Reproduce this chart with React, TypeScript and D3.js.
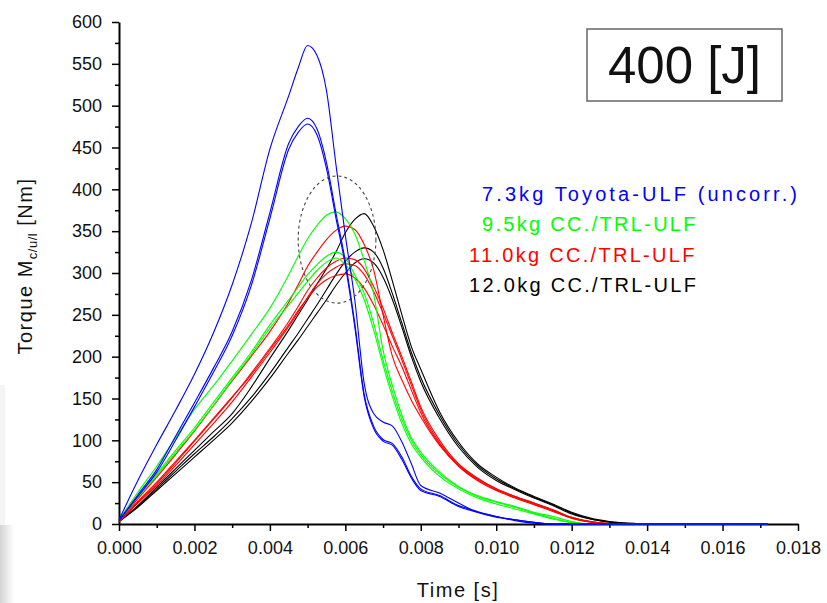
import React, { useEffect, useRef } from 'react';
import * as d3 from 'd3';

// time grid in milliseconds, torque in Nm
const timeMs = [0, 0.5, 1, 1.5, 2, 2.5, 3, 3.5, 4, 4.5, 4.75, 5, 5.25, 5.5, 5.75, 6, 6.25, 6.5, 6.75, 7, 7.25, 7.5, 7.75, 8, 8.5, 9, 9.5, 10, 10.5, 11, 11.5, 12, 12.5, 13, 13.5, 14, 15, 16, 17.2];

const blueA = [5, 52, 95, 136, 179, 228, 286, 358, 448, 512, 545, 572, 560, 518, 430, 345, 268, 168, 132, 122, 117, 98, 72, 46, 37, 25, 14, 8, 5, 2, 0, 0, 0, 0, 0, 0, 0, 0, 0];
const blueB = [4, 35, 65, 105, 145, 186, 230, 290, 372, 455, 475, 485, 472, 432, 372, 314, 240, 155, 117, 101, 96, 80, 57, 42, 34, 22, 15, 9, 5, 2, 0, 0, 0, 0, 0, 0, 0, 0, 0];
const blueC = [4, 33, 62, 100, 140, 181, 225, 284, 365, 448, 468, 478, 465, 425, 366, 309, 236, 152, 114, 99, 94, 77, 55, 40, 33, 21, 14, 9, 4, 1, 0, 0, 0, 0, 0, 0, 0, 0, 0];

const green1 = [5, 38, 69, 103, 137, 165, 195, 226, 258, 298, 320, 341, 357, 369, 373, 365, 347, 315, 275, 208, 165, 130, 103, 86, 62, 45, 34, 27, 21, 14, 9, 3, 0, 0, 0, 0, 0, 0, 0];
const green2 = [4, 33, 60, 88, 115, 145, 175, 205, 238, 268, 283, 298, 310, 320, 325, 318, 298, 276, 240, 196, 158, 125, 100, 83, 60, 44, 33, 26, 20, 13, 7, 2, 0, 0, 0, 0, 0, 0, 0];
const green3 = [4, 32, 58, 85, 112, 141, 172, 202, 234, 262, 276, 290, 303, 313, 318, 310, 293, 268, 232, 190, 152, 120, 96, 80, 57, 42, 31, 24, 18, 12, 6, 1.5, 0, 0, 0, 0, 0, 0, 0];

const red1 = [4, 30, 56, 83, 111, 141, 171, 200, 230, 265, 286, 308, 325, 340, 351, 356, 352, 334, 304, 250, 200, 172, 148, 128, 94, 70, 54, 42, 33, 25, 17, 8, 3, 0.5, 0, 0, 0, 0, 0];
const red2 = [3, 26, 48, 73, 99, 125, 151, 180, 210, 242, 260, 279, 294, 306, 314, 318, 316, 305, 284, 258, 228, 200, 170, 140, 100, 72, 55, 42, 33, 25, 17, 8, 3, 0.5, 0, 0, 0, 0, 0];
const red3 = [3, 25, 46, 70, 95, 120, 146, 175, 205, 236, 253, 271, 287, 299, 307, 311, 309, 298, 278, 252, 224, 196, 166, 137, 97, 70, 53, 41, 32, 24, 16, 7, 2.5, 0.5, 0, 0, 0, 0, 0];
const red4 = [3, 27, 50, 75, 100, 126, 152, 178, 208, 238, 255, 270, 283, 292, 297, 299, 294, 282, 262, 238, 212, 188, 160, 133, 95, 69, 52, 40, 31, 23, 15, 7, 2, 0.5, 0, 0, 0, 0, 0];

const black1 = [3, 22, 44, 66, 88, 110, 132, 163, 198, 232, 250, 268, 287, 305, 325, 348, 364, 371, 356, 328, 290, 250, 212, 185, 134, 98, 72, 56, 43, 33, 24, 14, 7, 3, 1, 0, 0, 0, 0];
const black2 = [3, 21, 42, 63, 84, 104, 126, 151, 180, 212, 228, 245, 262, 280, 298, 314, 325, 330, 325, 306, 275, 240, 205, 175, 130, 95, 70, 54, 42, 32, 23, 13, 6, 2.5, 0.5, 0, 0, 0, 0];
const black3 = [3, 20, 40, 60, 80, 100, 121, 146, 174, 205, 220, 236, 252, 268, 285, 300, 312, 317, 312, 295, 268, 235, 200, 170, 126, 92, 68, 52, 41, 31, 22, 12, 6, 2, 0.5, 0, 0, 0, 0];

const legendLabels = ['7.3kg Toyota-ULF (uncorr.)', '9.5kg CC./TRL-ULF', '11.0kg CC./TRL-ULF', '12.0kg CC./TRL-ULF'];
const groupColors = ['#0000ff', '#00ff00', '#ff0000', '#000000'];

// dashed ellipse around the peaks: centre (s, Nm) and radii (s, Nm)
const ellipseCenter = [0.00578, 340];
const ellipseRadius = [0.00103, 76];

const yMajor = d3.range(0, 601, 50);
const yMinor = d3.range(25, 600, 50);
const xMajor = d3.range(0, 0.0181, 0.002);
const xMinor = d3.range(0.001, 0.018, 0.002);

const W = 827;
const H = 603;

const font = '"Liberation Sans", Arial, sans-serif';

const App = () => {
    const xAxisRef = useRef<SVGGElement>(null);
    const yAxisRef = useRef<SVGGElement>(null);

    const x = d3.scaleLinear().domain([0, 0.018]).range([119, 798]);
    const y = d3.scaleLinear().domain([0, 600]).range([524, 22]);

    // draw order: black, red, green, blue on top
    const groups = [
        { color: groupColors[3], runs: [black1, black2, black3] },
        { color: groupColors[2], runs: [red1, red2, red3, red4] },
        { color: groupColors[1], runs: [green1, green2, green3] },
        { color: groupColors[0], runs: [blueA, blueB, blueC] },
    ];

    const line = d3.line<number>()
        .x((d, i) => x(timeMs[i] / 1000))
        .y(d => y(d))
        .curve(d3.curveMonotoneX);

    useEffect(() => {
        const gx = d3.select(xAxisRef.current);
        gx.selectAll('*').remove();
        gx.append('g')
            .call(d3.axisBottom(x).tickValues(xMinor).tickSize(4).tickFormat(() => ''));
        gx.append('g')
            .call(d3.axisBottom(x).tickValues(xMajor).tickSize(7).tickPadding(10).tickSizeOuter(0)
                .tickFormat(d3.format('.3f')));

        const gy = d3.select(yAxisRef.current);
        gy.selectAll('*').remove();
        gy.append('g')
            .call(d3.axisLeft(y).tickValues(yMinor).tickSize(4).tickFormat(() => ''));
        gy.append('g')
            .call(d3.axisLeft(y).tickValues(yMajor).tickSize(7).tickPadding(10).tickSizeOuter(0));

        [gx, gy].forEach(g => {
            g.selectAll('path.domain').attr('stroke-width', 2).attr('stroke', '#000');
            g.selectAll('.tick line').attr('stroke-width', 1.5).attr('stroke', '#000');
            g.selectAll('.tick text')
                .attr('font-family', font)
                .attr('font-size', 18)
                .attr('fill', '#111');
        });
        // minor axes should not redraw a domain line
        gx.select('g').select('path.domain').remove();
        gy.select('g').select('path.domain').remove();
    }, []);

    const ecx = x(ellipseCenter[0]);
    const ecy = y(ellipseCenter[1]);
    const erx = x(ellipseCenter[0] + ellipseRadius[0]) - ecx;
    const ery = ecy - y(ellipseCenter[1] + ellipseRadius[1]);

    const legendX = [482, 482, 469, 469];
    const legendY = [201, 231, 262, 292];
    const legendSpacing = [3.1, 2.3, 2.3, 2.3];

    return (
        <svg width={W} height={H} style={{ position: 'absolute', left: 0, top: 0, background: '#fff' }}>
            <defs>
                <linearGradient id="shade" x1="0" y1="0" x2="1" y2="0">
                    <stop offset="0" stopColor="#d4d4d4" />
                    <stop offset="1" stopColor="#ffffff" />
                </linearGradient>
            </defs>
            <rect x={0} y={385} width={5} height={140} fill="#f4f4f4" />
            <rect x={0} y={525} width={14} height={78} fill="url(#shade)" />

            <g ref={xAxisRef} transform="translate(0,524)" />
            <g ref={yAxisRef} transform="translate(119,0)" />

            {groups.map((g, gi) => (
                <g key={gi} fill="none" stroke={g.color} strokeWidth={1.1}>
                    {g.runs.map((r, ri) => (
                        <path key={ri} d={line(r) || ''} />
                    ))}
                </g>
            ))}

            <ellipse cx={ecx} cy={ecy} rx={erx} ry={ery} fill="none" stroke="#444" strokeWidth={1.1} strokeDasharray="3,3" />

            <g fontFamily={font} fontSize={20}>
                {legendLabels.map((t, i) => (
                    <text key={t} x={legendX[i]} y={legendY[i]} fill={groupColors[i]} letterSpacing={legendSpacing[i]}>{t}</text>
                ))}
            </g>

            <rect x={587} y={29} width={195} height={72} fill="#fff" stroke="#666" strokeWidth={1.5} />
            <text x={684.5} y={83} textAnchor="middle" fontFamily={font} fontSize={51} fill="#111">400 [J]</text>

            <text x={458} y={597} textAnchor="middle" fontFamily={font} fontSize={20} letterSpacing={1.5} fill="#111">Time [s]</text>
            <text transform="translate(32,266) rotate(-90)" textAnchor="middle" fontFamily={font} fontSize={20} letterSpacing={1.5} fill="#111">
                Torque M<tspan dy={5} fontSize={13} letterSpacing={0.5}>c/u/l</tspan><tspan dy={-5}> [Nm]</tspan>
            </text>
        </svg>
    );
};

export default App;
